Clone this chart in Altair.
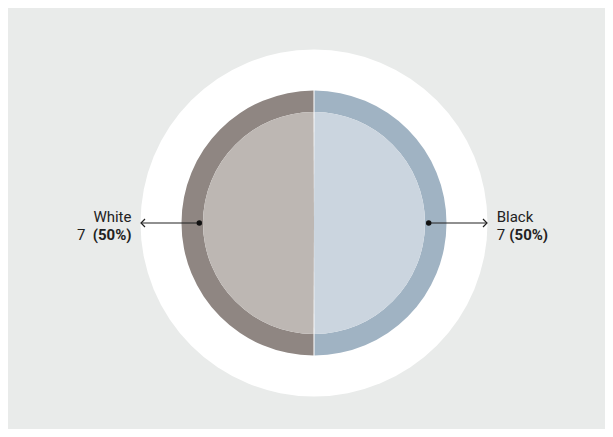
import altair as alt
import pandas as pd

# ---- data ----
categories = ["Black", "White"]
counts = [7, 7]
shares = ["50%", "50%"]
ring_colors = ["#a0b3c3", "#8f8682"]
inner_colors = ["#cbd5df", "#bdb7b3"]

# ---- geometry (px, relative to pie centre) ----
W, H = 597, 421
CX, CY = 306, 215
R_WHITE = 173.5
R_RING = 132.5
R_INNER = 111
R_DOT = 114.7
R_TIP = 173

FONT = "Roboto"
FS = 15

xs = alt.Scale(domain=[-CX, W - CX], nice=False, zero=False)
ys = alt.Scale(domain=[-(H - CY), CY], nice=False, zero=False)

pie_df = pd.DataFrame({
    "cat": categories,
    "count": counts,
    "ord": list(range(len(categories))),
    "cx": [0] * len(categories),
    "cy": [0] * len(categories),
})
circle_df = pd.DataFrame({"cx": [0], "cy": [0], "v": [1]})

sign = {"Black": 1, "White": -1}
ann_df = pd.DataFrame({
    "cat": categories,
    "xdot": [sign[c] * R_DOT for c in categories],
    "xtip": [sign[c] * R_TIP for c in categories],
    "y": [0, 0],
})

X = lambda f: alt.X(f, type="quantitative", scale=xs, axis=None)
Y = lambda f: alt.Y(f, type="quantitative", scale=ys, axis=None)

white_circle = alt.Chart(circle_df).mark_arc(
    outerRadius=R_WHITE, fill="white", stroke=None
).encode(theta=alt.Theta("v:Q", scale=alt.Scale(domain=[0, 1])), x=X("cx"), y=Y("cy"))

ring = alt.Chart(pie_df).mark_arc(
    outerRadius=R_RING, innerRadius=R_INNER, padAngle=0.006
).encode(
    theta=alt.Theta("count:Q", stack=True),
    order=alt.Order("ord:Q"),
    color=alt.Color("cat:N", scale=alt.Scale(domain=categories, range=ring_colors), legend=None),
    x=X("cx"), y=Y("cy"),
)

inner = alt.Chart(pie_df).mark_arc(
    outerRadius=R_INNER, padAngle=0.009
).encode(
    theta=alt.Theta("count:Q", stack=True),
    order=alt.Order("ord:Q"),
    color=alt.Color("cat:N", scale=alt.Scale(domain=categories, range=inner_colors), legend=None),
    x=X("cx"), y=Y("cy"),
)

rules = alt.Chart(ann_df).mark_rule(color="#222222", strokeWidth=1.2).encode(
    x=X("xdot"), x2="xtip", y=Y("y")
)

dots = alt.Chart(ann_df).mark_point(
    filled=True, color="#111111", size=30, opacity=1
).encode(x=X("xdot"), y=Y("y"))

left_head = alt.Chart(ann_df[ann_df["cat"] == "White"]).mark_point(
    shape="M1,-1L0,0L1,1", filled=False, color="#222222", strokeWidth=1.2, size=64, opacity=1
).encode(x=X("xtip"), y=Y("y"))

right_head = alt.Chart(ann_df[ann_df["cat"] == "Black"]).mark_point(
    shape="M-1,-1L0,0L-1,1", filled=False, color="#222222", strokeWidth=1.2, size=64, opacity=1
).encode(x=X("xtip"), y=Y("y"))

# label table
lab_df = pd.DataFrame({
    "label": ["White", str(counts[1]), "(" + shares[1] + ")",
              "Black", str(counts[0]), "(" + shares[0] + ")"],
    "lx": [-182.5, -228.5, -182.5, 182.7, 182.7, 195.3],
    "ly": [1.3, -17, -17, 1.3, -17, -17],
    "side": ["right", "right", "right", "left", "left", "left"],
    "wt": ["normal", "normal", "bold", "normal", "normal", "bold"],
})

def label_layer(side, wt):
    d = lab_df[(lab_df["side"] == side) & (lab_df["wt"] == wt)]
    return alt.Chart(d).mark_text(
        align=side, baseline="alphabetic", font=FONT, fontSize=FS,
        fontWeight=wt, color="#222222"
    ).encode(x=X("lx"), y=Y("ly"), text="label:N")

labels = [label_layer(a, w) for a in ["left", "right"] for w in ["normal", "bold"]]

chart = alt.layer(
    white_circle, ring, inner, rules, dots, left_head, right_head, *labels
).resolve_scale(color="independent", theta="independent").properties(
    width=W, height=H, background="#e9ebea", padding=0,
    autosize=alt.AutoSizeParams(type="none"),
).configure_view(stroke=None)

chart.save("out.html", embed_options={"renderer": "svg", "actions": False})
